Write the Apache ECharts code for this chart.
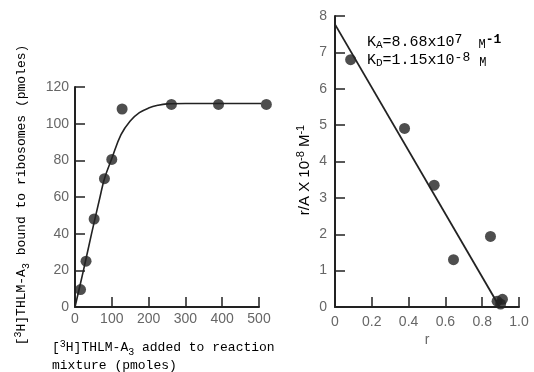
<!DOCTYPE html>
<html>
<head>
<meta charset="utf-8">
<script src="https://cdn.jsdelivr.net/npm/echarts@6/dist/echarts.min.js"></script>
<style>
  html, body { margin: 0; padding: 0; background: #fff; }
  #chart { width: 534px; height: 372px; }
</style>
</head>
<body>
<div id="chart"></div>
<script>
// binding curve (left panel)
var addedX = [15, 30, 52, 80, 100, 128, 262, 390, 520];
var boundY = [9.5, 25, 48, 70, 80.5, 108, 110.5, 110.5, 110.5];
var curveX = [0, 23, 45, 68, 80, 100, 125, 150, 175, 200, 225, 250, 300, 400, 520];
var curveY = [0, 20, 40, 60, 70, 81, 94, 101.5, 106, 108.5, 110, 110.8, 111, 111, 111];
var leftXTicks = [0, 100, 200, 300, 400, 500];
var leftYTicks = [0, 20, 40, 60, 80, 100, 120];

// Scatchard plot (right panel)
var rX = [0.085, 0.378, 0.539, 0.644, 0.845, 0.881, 0.91, 0.9];
var rAY = [6.8, 4.91, 3.35, 1.3, 1.94, 0.16, 0.21, 0.08];
var fitX = [0, 0.895];
var fitY = [7.77, 0];
var rightXTicks = [0, 0.2, 0.4, 0.6, 0.8, 1.0];
var rightYTicks = [0, 1, 2, 3, 4, 5, 6, 7, 8];

var ink = '#222';
var labelGray = '#666';
var tickFont = "'Liberation Sans', Arial, sans-serif";
var monoFont = "'Liberation Mono', 'DejaVu Sans Mono', monospace";

function pairs(xs, ys) {
  return xs.map(function (x, i) { return [x, ys[i]]; });
}

var richMono = {
  a: { fontFamily: monoFont, fontSize: 13, color: '#555', lineHeight: 18, verticalAlign: 'middle' },
  sup: { fontFamily: monoFont, fontSize: 10, color: '#555', lineHeight: 8, verticalAlign: 'top' },
  sub: { fontFamily: monoFont, fontSize: 10, color: '#555', lineHeight: 8, verticalAlign: 'bottom' }
};
var richSans = {
  a: { fontFamily: tickFont, fontSize: 15, color: labelGray, lineHeight: 20, verticalAlign: 'middle' },
  sup: { fontFamily: tickFont, fontSize: 11, color: labelGray, lineHeight: 8, verticalAlign: 'top' }
};
var richK = {
  a: { fontFamily: monoFont, fontSize: 15, color: '#444', lineHeight: 18, verticalAlign: 'middle' },
  m: { fontFamily: monoFont, fontSize: 12, color: '#444', lineHeight: 14, verticalAlign: 'bottom' },
  sup: { fontFamily: monoFont, fontSize: 13, color: '#444', lineHeight: 8, verticalAlign: 'top' },
  supb: { fontFamily: monoFont, fontSize: 13, color: '#333', fontWeight: 'bold', lineHeight: 8, verticalAlign: 'top' },
  sub: { fontFamily: monoFont, fontSize: 11, color: '#444', lineHeight: 8, verticalAlign: 'bottom' }
};

function axisCommon(ticks, fmt, margin) {
  return {
    type: 'value',
    min: ticks[0],
    max: ticks[ticks.length - 1],
    interval: ticks[1] - ticks[0],
    splitLine: { show: false },
    axisLine: { show: true, onZero: false, lineStyle: { color: ink, width: 2 } },
    axisTick: { show: true, inside: true, length: 10, lineStyle: { color: ink, width: 1.5 } },
    axisLabel: { color: labelGray, fontFamily: tickFont, fontSize: 14, margin: margin, formatter: fmt }
  };
}

var chart = echarts.init(document.getElementById('chart'));
var option = {
  animation: false,
  backgroundColor: '#fff',
  grid: [
    { left: 75, top: 87, width: 184, height: 220 },
    { left: 335, top: 16, width: 184, height: 291 }
  ],
  xAxis: [
    Object.assign(axisCommon(leftXTicks, null, 5), { gridIndex: 0 }),
    Object.assign(axisCommon(rightXTicks, function (v) { return v === 0 ? '0' : v.toFixed(1); }, 8), { gridIndex: 1 })
  ],
  yAxis: [
    Object.assign(axisCommon(leftYTicks, null, 6), { gridIndex: 0 }),
    Object.assign(axisCommon(rightYTicks, null, 8), { gridIndex: 1 })
  ],
  series: [
    {
      type: 'line', xAxisIndex: 0, yAxisIndex: 0, data: pairs(curveX, curveY),
      smooth: 0.4, showSymbol: false, clip: false,
      lineStyle: { color: ink, width: 1.6 }
    },
    {
      type: 'scatter', xAxisIndex: 0, yAxisIndex: 0, data: pairs(addedX, boundY),
      symbolSize: 11, clip: false, itemStyle: { color: ink }
    },
    {
      type: 'line', xAxisIndex: 1, yAxisIndex: 1, data: pairs(fitX, fitY),
      showSymbol: false, clip: false,
      lineStyle: { color: ink, width: 1.8 }
    },
    {
      type: 'scatter', xAxisIndex: 1, yAxisIndex: 1, data: pairs(rX, rAY),
      symbolSize: 11, clip: false, itemStyle: { color: ink }
    }
  ],
  graphic: [
    {
      type: 'text', x: 22, y: 195, rotation: Math.PI / 2,
      style: {
        text: '{a|[}{sup|3}{a|H]THLM-A}{sub|3}{a| bound to ribosomes (pmoles)}',
        rich: richMono, align: 'center', verticalAlign: 'middle'
      }
    },
    {
      type: 'text', x: 52, y: 339,
      style: {
        text: '{a|[}{sup|3}{a|H]THLM-A}{sub|3}{a| added to reaction}\n{a|mixture (pmoles)}',
        rich: richMono, align: 'left', verticalAlign: 'top'
      }
    },
    {
      type: 'text', x: 305, y: 170, rotation: Math.PI / 2,
      style: {
        text: '{a|r/A X 10}{sup|-8}{a| M}{sup|-1}',
        rich: richSans, align: 'center', verticalAlign: 'middle'
      }
    },
    {
      type: 'text', x: 427, y: 340,
      style: { text: 'r', fontFamily: tickFont, fontSize: 14, fill: labelGray, align: 'center', verticalAlign: 'middle' }
    },
    {
      type: 'text', x: 367, y: 33,
      style: {
        text: '{a|K}{sub|A}{a|=8.68x10}{sup|7}{a| }{m| M}{supb|-1}\n{a|K}{sub|D}{a|=1.15x10}{sup|-8}{a| }{m|M}',
        rich: richK, align: 'left', verticalAlign: 'top'
      }
    }
  ]
};
chart.setOption(option);
</script>
</body>
</html>
